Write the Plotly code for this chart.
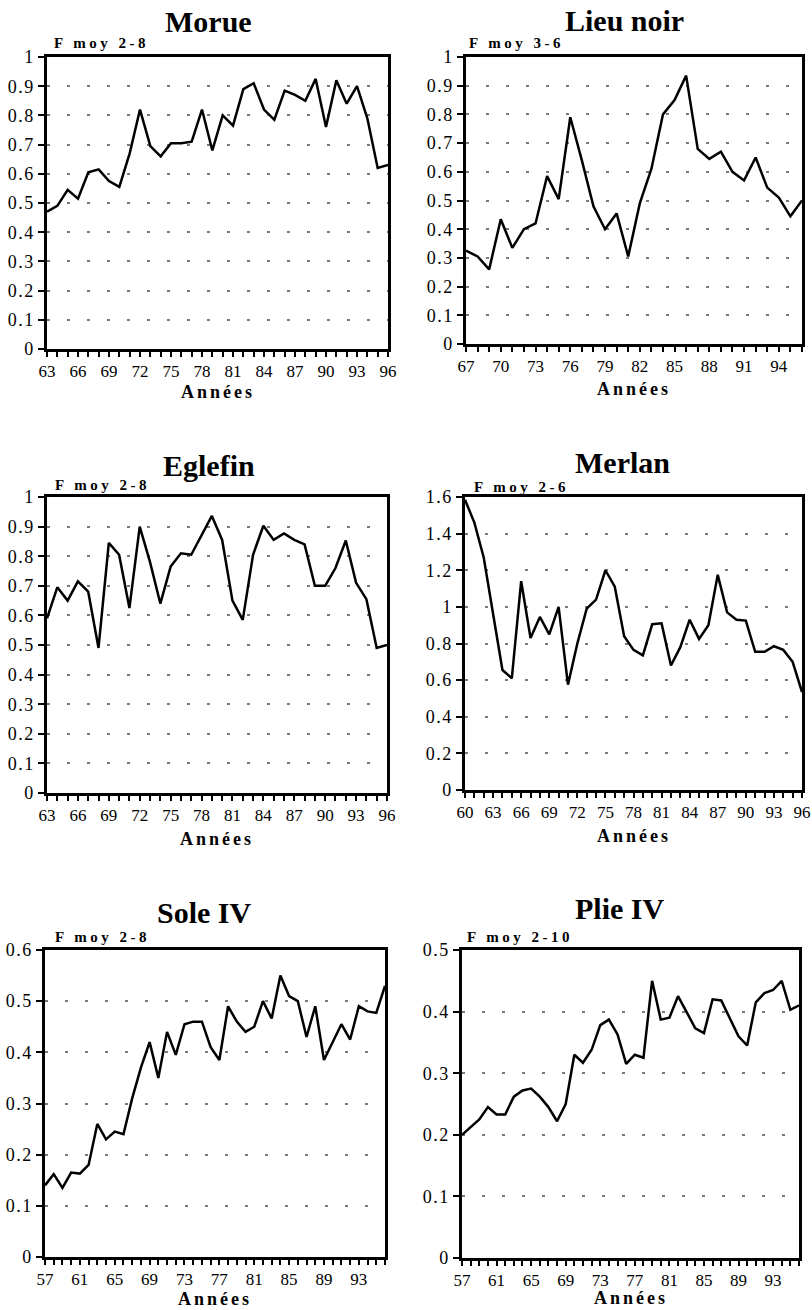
import plotly.graph_objects as go

W, H = 812, 1310
SERIF = "Liberation Serif, Times New Roman, serif"

# --- data (F moyen by year, two-digit years) ---
morue_years = list(range(63, 97))
morue_f = [0.47, 0.49, 0.545, 0.515, 0.605, 0.615, 0.575, 0.555, 0.67, 0.82,
           0.695, 0.66, 0.705, 0.705, 0.71, 0.82, 0.68, 0.80, 0.765, 0.89,
           0.91, 0.82, 0.785, 0.885, 0.87, 0.85, 0.925, 0.76, 0.92, 0.84,
           0.90, 0.79, 0.62, 0.63]

lieu_years = list(range(67, 97))
lieu_f = [0.325, 0.305, 0.26, 0.435, 0.335, 0.40, 0.42, 0.585, 0.505, 0.79,
          0.64, 0.48, 0.40, 0.455, 0.305, 0.49, 0.61, 0.80, 0.85, 0.935,
          0.68, 0.645, 0.67, 0.60, 0.57, 0.65, 0.545, 0.51, 0.445, 0.50]

eglefin_years = list(range(63, 97))
eglefin_f = [0.59, 0.695, 0.65, 0.715, 0.68, 0.49, 0.845, 0.805, 0.625, 0.90,
             0.78, 0.64, 0.765, 0.81, 0.805, 0.87, 0.936, 0.855, 0.65, 0.585,
             0.805, 0.903, 0.855, 0.877, 0.855, 0.84, 0.70, 0.70, 0.76, 0.853,
             0.71, 0.655, 0.49, 0.50]

merlan_years = list(range(60, 97))
merlan_f = [1.585, 1.46, 1.27, 0.95, 0.655, 0.61, 1.14, 0.83, 0.945, 0.85,
            1.0, 0.575, 0.80, 0.99, 1.04, 1.2, 1.11, 0.84, 0.765, 0.735,
            0.905, 0.91, 0.68, 0.78, 0.93, 0.825, 0.90, 1.175, 0.97, 0.93,
            0.925, 0.755, 0.755, 0.785, 0.765, 0.70, 0.535]

sole_years = list(range(57, 97))
sole_f = [0.14, 0.162, 0.135, 0.165, 0.163, 0.18, 0.26, 0.23, 0.245, 0.24,
          0.31, 0.37, 0.42, 0.35, 0.44, 0.395, 0.455, 0.46, 0.46, 0.41,
          0.385, 0.49, 0.46, 0.44, 0.45, 0.50, 0.466, 0.55, 0.51, 0.50,
          0.43, 0.49, 0.385, 0.42, 0.455, 0.425, 0.49, 0.48, 0.477, 0.53]

plie_years = list(range(57, 97))
plie_f = [0.20, 0.213, 0.225, 0.245, 0.233, 0.233, 0.262, 0.272, 0.275, 0.262,
          0.245, 0.222, 0.25, 0.33, 0.317, 0.338, 0.378, 0.387, 0.363, 0.315,
          0.33, 0.325, 0.45, 0.387, 0.39, 0.425, 0.40, 0.373, 0.365, 0.42,
          0.418, 0.39, 0.36, 0.345, 0.415, 0.43, 0.435, 0.45, 0.403, 0.41]

# panel layout in page pixels: box = (left, right, top, bottom)
panels = [
    dict(name="Morue", sub="F moy 2-8", x=morue_years, y=morue_f, ymax=1, dy=0.1, step=3,
         box=(47, 388, 57, 349), title_xy=(208, 22), sub_xy=(52, 43), ann_y=392),
    dict(name="Lieu noir", sub="F moy 3-6", x=lieu_years, y=lieu_f, ymax=1, dy=0.1, step=3,
         box=(466, 802, 57, 344), title_xy=(624, 21), sub_xy=(467, 43), ann_y=389),
    dict(name="Eglefin", sub="F moy 2-8", x=eglefin_years, y=eglefin_f, ymax=1, dy=0.1, step=3,
         box=(47, 387, 497, 793), title_xy=(209, 465), sub_xy=(53, 485), ann_y=839),
    dict(name="Merlan", sub="F moy 2-6", x=merlan_years, y=merlan_f, ymax=1.6, dy=0.2, step=3,
         box=(465, 802, 497, 790), title_xy=(622, 462), sub_xy=(472, 487), ann_y=836),
    dict(name="Sole IV", sub="F moy 2-8", x=sole_years, y=sole_f, ymax=0.6, dy=0.1, step=4,
         box=(45, 385, 950, 1257), title_xy=(204, 912), sub_xy=(53, 937), ann_y=1299),
    dict(name="Plie IV", sub="F moy 2-10", x=plie_years, y=plie_f, ymax=0.5, dy=0.1, step=4,
         box=(462, 799, 950, 1258), title_xy=(619, 908), sub_xy=(465, 937), ann_y=1298),
]


def fx(p):
    return p / W


def fy(p):
    return 1 - p / H


def ylabels(ymax, dy):
    # y tick values and their (slightly letter-spaced) labels
    n = int(round(ymax / dy))
    vals = [round(k * dy, 1) for k in range(n + 1)]
    text = ["<span style='letter-spacing:1.5px'>%g</span>" % v for v in vals]
    return vals, text


fig = go.Figure()
annotations = []

for i, p in enumerate(panels, start=1):
    sfx = "" if i == 1 else str(i)
    x0, x1, y0, y1 = p["box"]

    fig.add_trace(go.Scatter(
        x=p["x"], y=p["y"], mode="lines",
        line=dict(color="black", width=2.5),
        xaxis="x" + sfx, yaxis="y" + sfx,
        showlegend=False, hoverinfo="skip", cliponaxis=False,
    ))

    fig.layout["xaxis" + sfx] = dict(
        domain=[fx(x0), fx(x1)], anchor="y" + sfx, automargin=False,
        range=[p["x"][0], p["x"][-1]],
        tickvals=p["x"][::p["step"]],
        ticks="outside", ticklen=5, tickwidth=1.5, tickcolor="black",
        minor=dict(dtick=1, tick0=p["x"][0], ticks="outside", ticklen=5,
                   tickwidth=1.5, tickcolor="black", showgrid=False),
        showline=True, linecolor="black", linewidth=2.5, mirror=True,
        showgrid=False, zeroline=False,
        tickfont=dict(family=SERIF, size=17, color="black"),
    )
    yv, yt = ylabels(p["ymax"], p["dy"])
    fig.layout["yaxis" + sfx] = dict(
        domain=[fy(y1), fy(y0)], anchor="x" + sfx, automargin=False,
        range=[0, p["ymax"]], tickvals=yv, ticktext=yt,
        ticks="outside", ticklen=6, tickwidth=1.5, tickcolor="black",
        showline=True, linecolor="black", linewidth=2.5, mirror=True,
        showgrid=True, gridcolor="#7a7a7a", gridwidth=1.5, griddash="3px,17px",
        zeroline=False,
        tickfont=dict(family=SERIF, size=18, color="black"),
    )

    tx, ty = p["title_xy"]
    annotations.append(dict(
        text="<b>%s</b>" % p["name"], x=fx(tx), y=fy(ty), xref="paper", yref="paper",
        showarrow=False, xanchor="center", yanchor="middle",
        font=dict(family=SERIF, size=30, color="black"),
    ))
    sx, sy = p["sub_xy"]
    annotations.append(dict(
        text="<span style='letter-spacing:3.5px'><b>%s</b></span>" % p["sub"],
        x=fx(sx), y=fy(sy), xref="paper", yref="paper",
        showarrow=False, xanchor="left", yanchor="middle",
        font=dict(family=SERIF, size=15, color="black"),
    ))
    annotations.append(dict(
        text="<span style='letter-spacing:3px'><b>Années</b></span>",
        x=fx((x0 + x1) / 2), y=fy(p["ann_y"]), xref="paper", yref="paper",
        showarrow=False, xanchor="center", yanchor="middle",
        font=dict(family=SERIF, size=18, color="black"),
    ))

fig.update_layout(
    template="none",
    width=W, height=H,
    margin=dict(l=0, r=0, t=0, b=0, pad=0),
    paper_bgcolor="white", plot_bgcolor="white",
    annotations=annotations,
    showlegend=False,
)

# drop the page's default 8px body margin so the figure fills the window
fig.write_html("out.html", config={"displayModeBar": False},
               post_script="document.body.style.margin = '0';")
